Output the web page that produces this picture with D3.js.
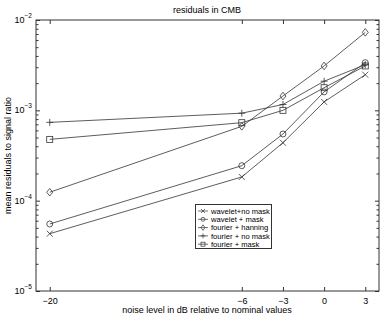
<!DOCTYPE html>
<html><head><meta charset="utf-8">
<script src="https://cdn.jsdelivr.net/npm/d3@7"></script>
<style>body{margin:0;background:#fff}svg{display:block}text{font-family:"Liberation Sans",Arial,sans-serif;fill:#000}</style>
</head><body><svg id="c" width="382" height="316"></svg>
<script>
const xValues = [-20, -6, -3, 0, 3];
const xTicks = [-20, -6, -3, 0, 3];
const seriesNames = ["wavelet+no mask", "wavelet + mask", "fourier + hanning", "fourier + no mask", "fourier + mask"];
const seriesMarkers = ["x", "circle", "diamond", "plus", "square"];
const waveletNoMask = [4.31e-5, 1.83e-4, 4.38e-4, 1.24e-3, 2.48e-3];
const waveletMask = [5.52e-5, 2.44e-4, 5.47e-4, 1.60e-3, 3.37e-3];
const fourierHanning = [1.24e-4, 6.65e-4, 1.44e-3, 3.10e-3, 7.30e-3];
const fourierNoMask = [7.36e-4, 9.3e-4, 1.16e-3, 2.10e-3, 3.20e-3];
const fourierMask = [4.77e-4, 7.3e-4, 1.0e-3, 1.78e-3, 3.10e-3];
const yDecades = [-5, -4, -3, -2];

const series = [waveletNoMask, waveletMask, fourierHanning, fourierNoMask, fourierMask];
const svg = d3.select("#c");
const L = 36, R = 379, T = 20, B = 291;
const x = d3.scaleLinear().domain([-21, 4]).range([L, R]);
const y = d3.scaleLog().domain([1e-5, 1e-2]).range([B, T]);
const ink = "#333";

svg.append("rect").attr("x", L).attr("y", T).attr("width", R - L).attr("height", B - T)
  .attr("fill", "none").attr("stroke", ink).attr("stroke-width", 1);

const xb = svg.append("g").attr("transform", `translate(0,${B})`)
  .call(d3.axisBottom(x).tickValues(xTicks).tickSizeInner(-4).tickSizeOuter(0).tickPadding(7)
  .tickFormat(d => d < 0 ? "\u2212" + Math.abs(d) : d));
const xt = svg.append("g").attr("transform", `translate(0,${T})`)
  .call(d3.axisTop(x).tickValues(xTicks).tickSizeInner(-4).tickSizeOuter(0).tickFormat(""));
const minor = [];
for (let e = -5; e < -2; e++) for (let k = 2; k <= 9; k++) minor.push(k * Math.pow(10, e));
const major = yDecades.map(e => Math.pow(10, e));
const yl = svg.append("g").attr("transform", `translate(${L},0)`)
  .call(d3.axisLeft(y).tickValues(major).tickSizeInner(-4).tickSizeOuter(0).tickFormat(""));
const ylm = svg.append("g").attr("transform", `translate(${L},0)`)
  .call(d3.axisLeft(y).tickValues(minor).tickSizeInner(-2.5).tickSizeOuter(0).tickFormat(""));
const yr = svg.append("g").attr("transform", `translate(${R},0)`)
  .call(d3.axisRight(y).tickValues(major).tickSizeInner(-4).tickSizeOuter(0).tickFormat(""));
const yrm = svg.append("g").attr("transform", `translate(${R},0)`)
  .call(d3.axisRight(y).tickValues(minor).tickSizeInner(-2.5).tickSizeOuter(0).tickFormat(""));
[xb, xt, yl, ylm, yr, yrm].forEach(g => {
  g.select(".domain").remove();
  g.selectAll("line").attr("stroke", ink);
  g.selectAll("text").attr("font-size", 9).attr("font-family", '"Liberation Sans",Arial,sans-serif').attr("fill", "#000");
});

yDecades.forEach(e => {
  const t = svg.append("text").attr("x", 32).attr("y", y(Math.pow(10, e)) + 3)
    .attr("text-anchor", "end").attr("font-size", 9);
  t.append("tspan").text("10");
  t.append("tspan").attr("dy", -5).attr("font-size", 6.5).text("\u2212" + Math.abs(e));
});

function marker(g, type, cx, cy, s) {
  if (type === "x") {
    g.append("path").attr("d", `M${cx-s},${cy-s}L${cx+s},${cy+s}M${cx-s},${cy+s}L${cx+s},${cy-s}`);
  } else if (type === "plus") {
    g.append("path").attr("d", `M${cx-s-0.5},${cy}L${cx+s+0.5},${cy}M${cx},${cy-s-0.5}L${cx},${cy+s+0.5}`);
  } else if (type === "circle") {
    g.append("circle").attr("cx", cx).attr("cy", cy).attr("r", s).attr("fill", "none");
  } else if (type === "square") {
    g.append("rect").attr("x", cx - s).attr("y", cy - s).attr("width", 2 * s).attr("height", 2 * s).attr("fill", "none");
  } else if (type === "diamond") {
    g.append("path").attr("d", `M${cx},${cy-s-0.8}L${cx+s},${cy}L${cx},${cy+s+0.8}L${cx-s},${cy}Z`).attr("fill", "none");
  }
}

const line = d3.line().x((d, i) => x(xValues[i])).y(d => y(d));
series.forEach((vals, si) => {
  const g = svg.append("g").attr("stroke", ink).attr("stroke-width", 0.8).attr("fill", "none");
  g.append("path").attr("d", line(vals));
  vals.forEach((v, i) => marker(g, seriesMarkers[si], x(xValues[i]), y(v), 3));
});

const lg = svg.append("g");
lg.append("rect").attr("x", 195.5).attr("y", 204.5).attr("width", 76).attr("height", 44)
  .attr("fill", "#fff").attr("stroke", ink).attr("stroke-width", 1);
seriesNames.forEach((n, i) => {
  const cy = 211 + i * 8.3;
  const g = lg.append("g").attr("stroke", ink).attr("stroke-width", 0.7).attr("fill", "none");
  g.append("path").attr("d", `M198,${cy}L208,${cy}`);
  marker(g, seriesMarkers[i], 203, cy, 2);
  lg.append("text").attr("x", 211).attr("y", cy + 2.8).attr("font-size", 7.6).text(n);
});

svg.append("text").attr("x", 207).attr("y", 13).attr("text-anchor", "middle").attr("font-size", 9).text("residuals in CMB");
svg.append("text").attr("x", 207).attr("y", 313).attr("text-anchor", "middle").attr("font-size", 9).text("noise level in dB relative to nominal values");
svg.append("text").attr("transform", `translate(11,${(T + B) / 2}) rotate(-90)`).attr("text-anchor", "middle").attr("font-size", 9).text("mean residuals to signal ratio");
</script></body></html>
